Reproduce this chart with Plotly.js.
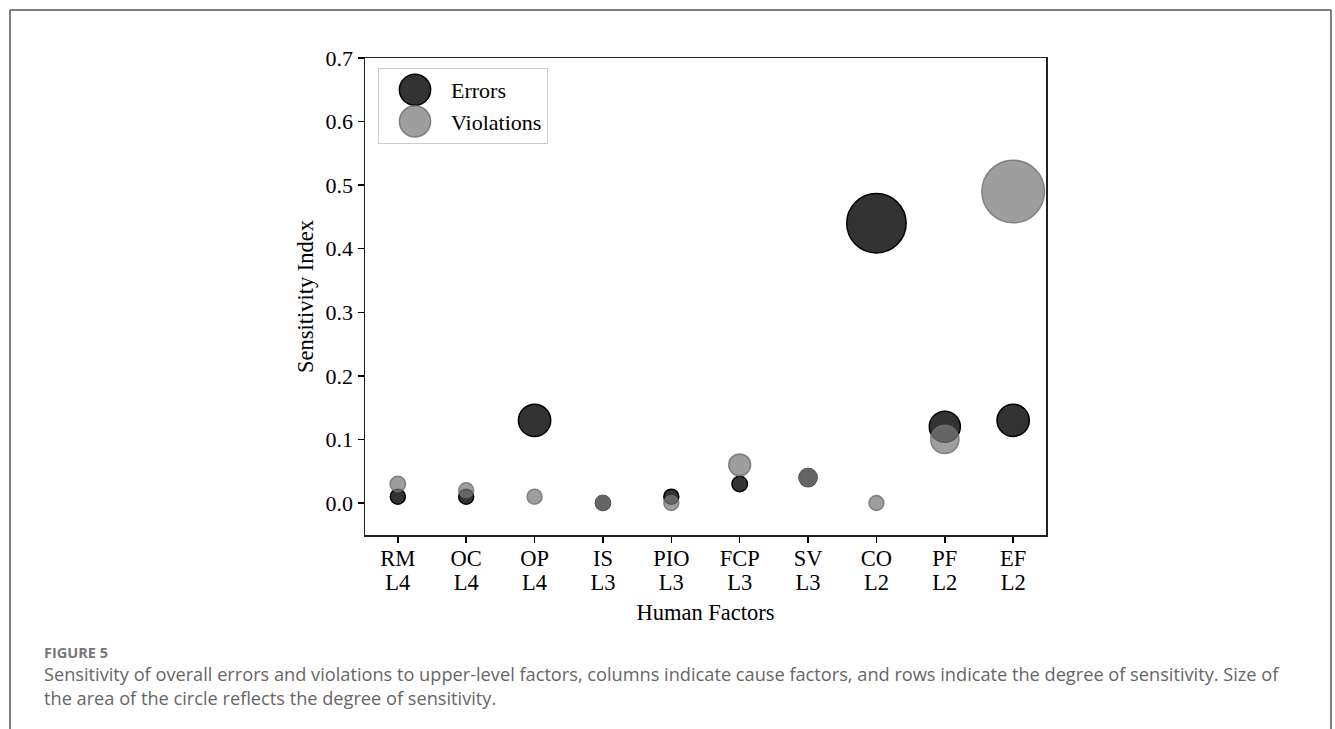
<!DOCTYPE html>
<html>
<head>
<meta charset="utf-8">
<script src="https://cdn.plot.ly/plotly-3.0.1.min.js"></script>
<style>
  html, body { margin: 0; padding: 0; background: #fff; }
  #chart { width: 1335px; height: 729px; }
</style>
</head>
<body>
<div id="chart"></div>
<script>
// Data
const factors = ["RM", "OC", "OP", "IS", "PIO", "FCP", "SV", "CO", "PF", "EF"];
const levels  = ["L4", "L4", "L4", "L3", "L3", "L3", "L3", "L2", "L2", "L2"];
const errors     = [0.01, 0.01, 0.13, 0.00, 0.01, 0.03, 0.04, 0.44, 0.12, 0.13];
const violations = [0.03, 0.02, 0.01, 0.00, 0.00, 0.06, 0.04, 0.00, 0.10, 0.49];
const yTicks = [0.0, 0.1, 0.2, 0.3, 0.4, 0.5, 0.6, 0.7];

const serif = "Liberation Serif, Times New Roman, serif";
const FS = 22.5;
const big = s => "<span style='font-size:" + FS + "px'>" + s + "</span>";
const tickText = factors.map((f, i) => big(f) + "<br>" + big(levels[i]));
const xIdx = factors.map((f, i) => i);

const sizeRef = 0.44 / (42 * 42);
// zero-valued points still get the minimum marker size (as in the reference)
const bubble = v => Math.max(v, 1e-6);

const traces = [
  {
    type: "scatter", mode: "markers", name: "Errors",
    x: xIdx, y: errors,
    marker: {
      size: errors.map(bubble), sizemode: "area", sizeref: sizeRef, sizemin: 7.5,
      opacity: 1,
      color: "#333333", line: { color: "#000", width: 1.5 }
    },
    hoverinfo: "skip"
  },
  {
    type: "scatter", mode: "markers", name: "Violations",
    x: xIdx, y: violations,
    marker: {
      size: violations.map(bubble), sizemode: "area", sizeref: sizeRef, sizemin: 7.5,
      opacity: 1,
      color: "rgba(120,120,120,0.72)", line: { color: "rgba(110,110,110,0.8)", width: 1.5 }
    },
    hoverinfo: "skip"
  }
];

const W = 1335, H = 729;
const yBottom = 535, yTop = 58, yZero = 503;
const layout = {
  width: W, height: H,
  margin: { l: 0, r: 0, t: 0, b: 0 },
  paper_bgcolor: "#fff", plot_bgcolor: "#fff",
  showlegend: true,
  font: { family: serif, color: "#000", size: FS },
  xaxis: {
    domain: [365 / W, 1046 / W],
    range: [-0.48, 9.48],
    tickmode: "array", tickvals: xIdx, ticktext: tickText,
    ticks: "outside", ticklen: 6, tickwidth: 1.5, tickcolor: "#000",
    ticklabelstandoff: 1,
    showgrid: false, zeroline: false,
    showline: true, linecolor: "#222", linewidth: 1.5, mirror: true,
    tickfont: { family: serif, size: 18.5, color: "#000" },
    title: { text: "Human Factors", font: { family: serif, size: FS, color: "#000" }, standoff: 10 }
  },
  yaxis: {
    domain: [1 - yBottom / H, 1 - yTop / H],
    range: [-0.7 * (yBottom - yZero) / (yZero - yTop), 0.7],
    tickmode: "array", tickvals: yTicks, ticktext: yTicks.map(v => v.toFixed(1)),
    ticks: "outside", ticklen: 6, tickwidth: 1.5, tickcolor: "#000",
    showgrid: false, zeroline: false,
    showline: true, linecolor: "#222", linewidth: 1.5, mirror: true,
    tickfont: { family: serif, size: 22, color: "#000" },
    title: { text: "Sensitivity Index", font: { family: serif, size: FS, color: "#000" }, standoff: 5 }
  },
  legend: {
    x: 378 / W, y: 1 - 68 / H, xanchor: "left", yanchor: "top",
    bgcolor: "#fff", bordercolor: "#ccc", borderwidth: 1,
    font: { family: serif, size: 22, color: "#000" },
    itemsizing: "constant", itemwidth: 62,
    tracegroupgap: 0
  },
  shapes: [
    { type: "line", xref: "paper", yref: "paper", x0: 10 / W, x1: 1331 / W, y0: 1 - 10 / H, y1: 1 - 10 / H, line: { color: "#555", width: 1.5 } },
    { type: "line", xref: "paper", yref: "paper", x0: 10 / W, x1: 10 / W, y0: 1 - 10 / H, y1: 0, line: { color: "#555", width: 1.5 } },
    { type: "line", xref: "paper", yref: "paper", x0: 1331 / W, x1: 1331 / W, y0: 1 - 10 / H, y1: 0, line: { color: "#555", width: 1.5 } }
  ],
  annotations: [
    { xref: "paper", yref: "paper", x: 42 / W, y: 1 - 652 / H, xanchor: "left", yanchor: "middle",
      showarrow: false, text: "<b>FIGURE 5</b>",
      font: { family: "Open Sans, Noto Sans, sans-serif", size: 14.5, color: "#777" } },
    { xref: "paper", yref: "paper", x: 42 / W, y: 1 - 686 / H, xanchor: "left", yanchor: "middle", align: "left",
      showarrow: false,
      text: "Sensitivity of overall errors and violations to upper-level factors, columns indicate cause factors, and rows indicate the degree of sensitivity. Size of<br>the area of the circle reflects the degree of sensitivity.",
      font: { family: "Open Sans, Noto Sans, sans-serif", size: 18.2, color: "#666" } }
  ]
};

Plotly.newPlot("chart", traces, layout, { staticPlot: true, displayModeBar: false }).then(gd => {
  // enlarge legend symbols to match the reference
  const k = 2.6;
  gd.querySelectorAll(".legend .legendpoints path.scatterpts").forEach(p => {
    p.setAttribute("transform", (p.getAttribute("transform") || "") + " scale(" + k + ")");
    p.style.strokeWidth = (1.5 / k) + "px";
  });
});
</script>
</body>
</html>
